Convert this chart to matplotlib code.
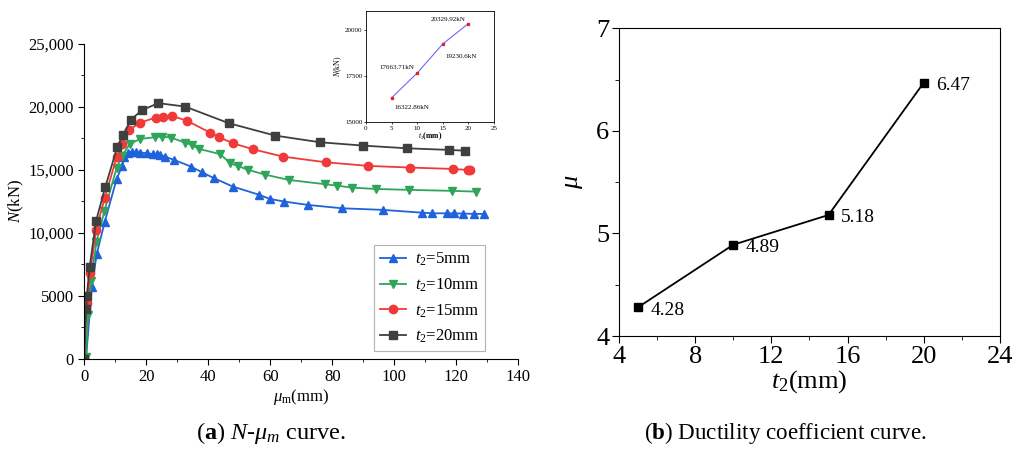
import numpy as np
import matplotlib
matplotlib.use("Agg")
import matplotlib.pyplot as plt
from matplotlib.ticker import MultipleLocator

plt.rcParams['font.family'] = ['Liberation Serif', 'DejaVu Serif']
plt.rcParams['mathtext.fontset'] = 'custom'
plt.rcParams['mathtext.rm'] = 'Liberation Serif'
plt.rcParams['mathtext.it'] = 'Liberation Serif:italic'
plt.rcParams['mathtext.bf'] = 'Liberation Serif:bold'

# ---- (a) N - mu_m curves ----
x_5 = [0, 0.55, 2.4, 4.0, 6.6, 10.4, 12.2, 12.9, 14.2, 15.3, 16.6, 18.0, 20.1, 22.1, 23.4,
       24.4, 26.0, 28.9, 34.4, 37.9, 41.9, 47.9, 56.5, 59.9, 64.5, 72.3, 83.0, 96.3,
       108.9, 112.3, 117.1, 119.3, 122.0, 125.8, 128.9]
n_5 = [0, 30, 5670, 8310, 10880, 14240, 15320, 15990, 16310, 16440, 16400, 16360, 16310,
       16230, 16230, 16180, 16040, 15780, 15250, 14800, 14320, 13660, 13000, 12680, 12470,
       12200, 11940, 11810, 11590, 11540, 11540, 11530, 11520, 11490, 11490]

x_10 = [0, 0.55, 1.2, 2.2, 3.9, 6.5, 10.4, 12.1, 14.7, 18.0, 22.8, 25.2, 27.9, 32.5, 34.6,
        37.0, 43.9, 47.0, 49.5, 52.9, 58.3, 65.9, 77.6, 81.4, 86.3, 94.0, 104.8, 118.5, 126.4]
n_10 = [0, 160, 3440, 6180, 9260, 11750, 15120, 16090, 17050, 17440, 17580, 17630, 17550,
        17150, 16970, 16650, 16230, 15510, 15300, 14980, 14610, 14190, 13850, 13740, 13580,
        13470, 13400, 13320, 13260]

x_15 = [0, 0.6, 0.9, 1.9, 3.8, 6.6, 10.5, 12.2, 14.5, 18.0, 23.1, 25.3, 28.4, 33.0, 40.5,
        43.5, 47.9, 54.3, 64.0, 77.9, 91.6, 105.1, 118.8, 123.7, 124.5]
n_15 = [0, 3920, 4430, 6800, 10240, 12790, 16040, 17020, 18160, 18740, 19140, 19220, 19250,
        18900, 17950, 17580, 17100, 16630, 16040, 15590, 15300, 15170, 15060, 14980, 14980]

x_20 = [0, 0.6, 0.8, 1.7, 3.8, 6.8, 10.6, 12.6, 15.0, 18.5, 23.9, 32.5, 46.6, 61.5, 75.9,
        90.0, 104.0, 117.6, 122.8]
n_20 = [0, 3920, 4990, 7260, 10950, 13660, 16780, 17790, 18950, 19720, 20280, 20010, 18690,
        17710, 17180, 16910, 16700, 16570, 16510]

y_ticks_a = [0, 5000, 10000, 15000, 20000, 25000]
y_labels_a = ['0', '5000', '10,000', '15,000', '20,000', '25,000']

# inset: peak load vs t2
t2_peak = [5, 10, 15, 20]
n_peak = [16322.86, 17663.71, 19230.6, 20329.92]
peak_labels = ['16322.86kN', '17663.71kN', '19230.6kN', '20329.92kN']

# ---- (b) ductility coefficient ----
t2 = [5, 10, 15, 20]
mu = [4.28, 4.89, 5.18, 6.47]

fig = plt.figure(figsize=(10.26, 4.5), dpi=100)

ax = fig.add_axes([0.0822, 0.2029, 0.423, 0.70])
ax.plot(x_5, n_5, color='#1f63dc', lw=1.3, marker='^', ms=6, label=r'$t_2$=5mm')
ax.plot(x_10, n_10, color='#2ea55a', lw=1.3, marker='v', ms=6, label=r'$t_2$=10mm')
ax.plot(x_15, n_15, color='#f03a3a', lw=1.3, marker='o', ms=6, label=r'$t_2$=15mm')
ax.plot(x_20, n_20, color='#3f3f3f', lw=1.3, marker='s', ms=5.5, label=r'$t_2$=20mm')
ax.set_xlim(0, 140)
ax.set_ylim(0, 25000)
ax.set_xticks(np.arange(0, 141, 20))
ax.xaxis.set_minor_locator(MultipleLocator(10))
ax.set_yticks(y_ticks_a)
ax.set_yticklabels(y_labels_a)
ax.yaxis.set_minor_locator(MultipleLocator(2500))
ax.spines['top'].set_visible(False)
ax.spines['right'].set_visible(False)
ax.tick_params(which='both', direction='out', labelsize=12)
ax.tick_params(which='major', length=4)
ax.tick_params(which='minor', length=2.5)
ax.set_xlabel(r'$\mu_{\mathrm{m}}$(mm)', fontsize=12, labelpad=1)
ax.set_ylabel(r'$N$(kN)', fontsize=12, labelpad=2)
leg = ax.legend(loc='lower left', bbox_to_anchor=(0.667, 0.024), fontsize=12,
                frameon=True, fancybox=False, edgecolor='#a0a0a0', handlelength=1.6,
                borderpad=0.35, labelspacing=0.5, handletextpad=0.5, borderaxespad=0)
leg.get_frame().set_linewidth(0.8)

# inset
ins = fig.add_axes([0.3567, 0.728, 0.1248, 0.2473])
ins.plot(t2_peak, n_peak, color='#6a6aff', lw=0.8, marker='s', ms=2,
         mfc='#e8202a', mec='#e8202a')
ins.set_xlim(0, 25)
ins.set_ylim(15000, 21000)
ins.set_xticks([0, 5, 10, 15, 20, 25])
ins.set_yticks([15000, 17500, 20000])
ins.tick_params(labelsize=5, length=1.5, width=0.5, pad=1)
for s in ins.spines.values():
    s.set_linewidth(0.6)
ins.set_xlabel(r'$t_2$(mm)', fontsize=5.5, labelpad=0, fontweight='bold')
ins.set_ylabel(r'$N$(kN)', fontsize=5.5, labelpad=1)
offsets = [(2, -7, 'left'), (-2, 4, 'right'), (2, -9, 'left'), (-2, 3, 'right')]
for xv, yv, lab, (dx, dy, ha) in zip(t2_peak, n_peak, peak_labels, offsets):
    ins.annotate(lab, (xv, yv), xytext=(dx, dy), textcoords='offset points',
                 fontsize=5, ha=ha, va='center')

# right panel
bx = fig.add_axes([0.6033, 0.2533, 0.3713, 0.6838])
bx.plot(t2, mu, color='black', lw=1.3, marker='s', ms=6)
for xv, yv in zip(t2, mu):
    bx.annotate(f'{yv:.2f}', (xv, yv), xytext=(9, -2), textcoords='offset points',
                fontsize=14, ha='left', va='center')
bx.set_xlim(4, 24)
bx.set_ylim(4, 7)
bx.set_xticks([4, 8, 12, 16, 20, 24])
bx.xaxis.set_minor_locator(MultipleLocator(2))
bx.set_yticks([4, 5, 6, 7])
bx.yaxis.set_minor_locator(MultipleLocator(0.5))
bx.tick_params(which='both', direction='out', labelsize=19, top=False, right=False)
bx.tick_params(which='major', length=5, pad=2)
bx.tick_params(which='minor', length=3)
bx.set_xlabel(r'$t_2$(mm)', fontsize=19, labelpad=0)
bx.set_ylabel(r'$\mu$', fontsize=19, labelpad=8)

fig.text(0.264, 0.038, r'($\mathbf{a}$) $N$-$\mu_m$ curve.', fontsize=17.5, ha='center', va='center')
fig.text(0.765, 0.038, r'($\mathbf{b}$) Ductility coefficient curve.', fontsize=16.6,
         ha='center', va='center')

fig.savefig('out.png', dpi=100)
